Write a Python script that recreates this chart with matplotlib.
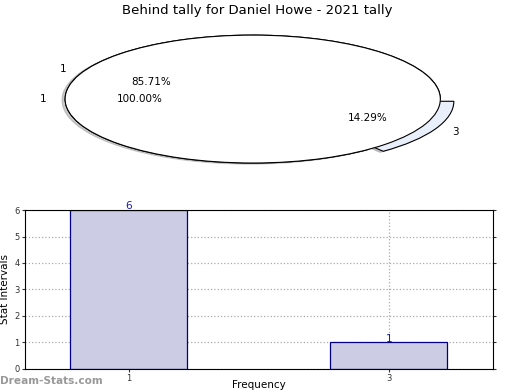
import matplotlib
matplotlib.use("Agg")
import matplotlib.pyplot as plt

# -------------------------------
# Data
# -------------------------------
pie_labels = ["1", "3"]
pie_values = [6, 1]
inner_labels = ["1"]
inner_values = [1]

bar_labels = ["1", "3"]
bar_values = [6, 1]

TITLE = "Behind tally for Daniel Howe - 2021 tally"

# -------------------------------
# Figure
# -------------------------------
fig = plt.figure(figsize=(5.2, 3.9), dpi=100)

# pie (squashed into an ellipse)
ax_pie = fig.add_axes([0.035, 0.541, 0.902, 0.41])
ax_pie.pie(pie_values, labels=pie_labels, autopct="%.2f%%",
           explode=[0, 0.08],
           shadow={"ox": -0.012, "oy": -0.012, "shade": 0.4},
           colors=["#ffffff", "#eaf0fb"],
           wedgeprops={"edgecolor": "black", "linewidth": 0.8},
           textprops={"fontsize": 7.5})
ax_pie.pie(inner_values, labels=inner_labels, autopct="%.2f%%",
           colors=["#ffffff"],
           wedgeprops={"edgecolor": "black", "linewidth": 0.8},
           textprops={"fontsize": 7.5})
ax_pie.set_aspect("auto")
ax_pie.set_xlim(-1.25, 1.25)
ax_pie.set_ylim(-1.25, 1.25)

fig.text(0.495, 0.974, TITLE, ha="center", va="center", fontsize=9.5)

# bar chart
ax_bar = fig.add_axes([0.048, 0.054, 0.9, 0.4075])
xs = list(range(len(bar_values)))
ax_bar.bar(xs, bar_values, width=0.45, color="#ccccE4",
           edgecolor="#000080", linewidth=0.9, zorder=2)
for x, v in zip(xs, bar_values):
    ax_bar.text(x, v - 0.05, str(v), ha="center", va="bottom",
                color="#1a1aa0", fontsize=7.5, zorder=3)
ax_bar.set_xlim(-0.4, 1.4)
ax_bar.set_ylim(0, 6)
ax_bar.set_xticks(xs)
ax_bar.set_xticklabels(bar_labels)
ax_bar.set_yticks(range(0, 7))
ax_bar.tick_params(labelsize=6, length=2, pad=2, right=True, colors="#333333")
ax_bar.grid(True, linestyle=":", color="#aaaaaa", linewidth=0.9, zorder=0)
ax_bar.set_axisbelow(True)
ax_bar.set_ylabel("Stat Intervals", fontsize=7.5)
ax_bar.yaxis.set_label_coords(-0.033, 0.5)
ax_bar.set_xlabel("Frequency", fontsize=7.5, va="bottom")
ax_bar.xaxis.set_label_coords(0.5, -0.135)

fig.text(0.0, 0.024, "Dream-Stats.com", fontsize=7.6, color="#999999",
         fontweight="bold", ha="left", va="center")

fig.savefig("out.png", dpi=100)
